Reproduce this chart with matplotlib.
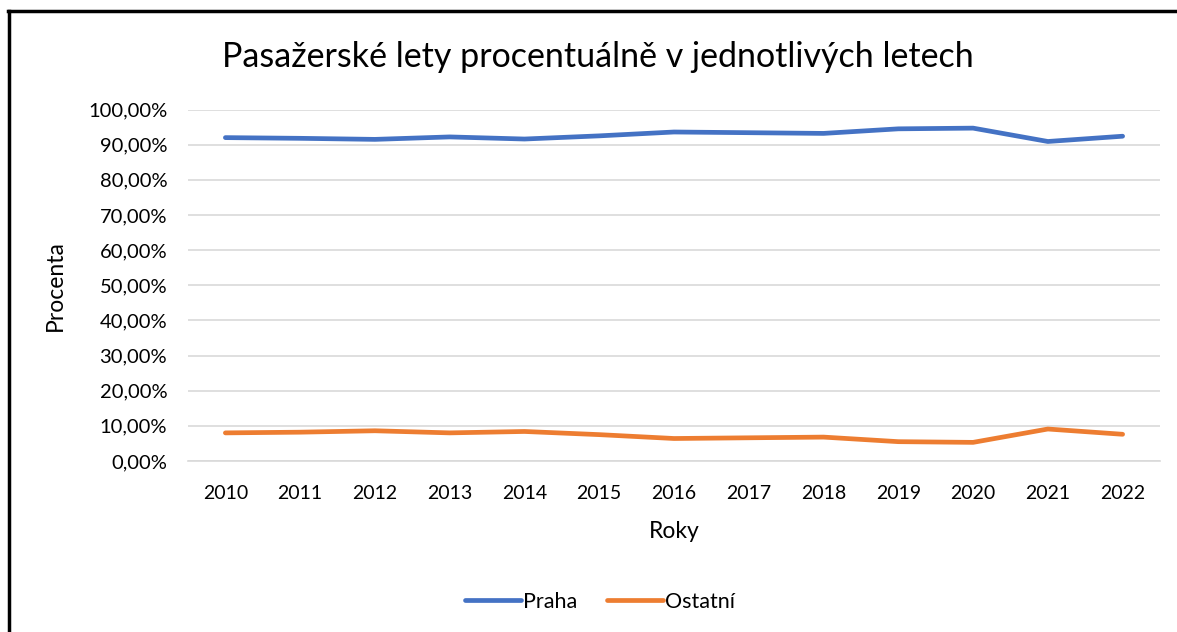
import matplotlib
matplotlib.use("Agg")
import matplotlib.pyplot as plt
from matplotlib.lines import Line2D
from matplotlib.ticker import FuncFormatter, MultipleLocator

years = ["2010", "2011", "2012", "2013", "2014", "2015", "2016",
         "2017", "2018", "2019", "2020", "2021", "2022"]
praha = [92.0, 91.8, 91.5, 92.2, 91.6, 92.5, 93.6, 93.4, 93.2, 94.5, 94.7, 90.9, 92.4]
ostatni = [8.0, 8.2, 8.6, 8.0, 8.4, 7.5, 6.4, 6.6, 6.8, 5.5, 5.3, 9.1, 7.6]

plt.rcParams["font.family"] = ["Lato", "DejaVu Sans"]

W, H = 1177, 632
fig = plt.figure(figsize=(W / 100, H / 100), dpi=100)
ax = fig.add_axes([188 / W, 1 - 461 / H, (1160 - 188) / W, (461 - 109.5) / H])

x = range(len(years))
ax.plot(x, [v / 100 for v in praha], color="#4472C4", lw=3.4, label="Praha",
        solid_capstyle="round", solid_joinstyle="round")
ax.plot(x, [v / 100 for v in ostatni], color="#ED7D31", lw=3.4, label="Ostatní",
        solid_capstyle="round", solid_joinstyle="round")

ax.set_xlim(-0.5, len(years) - 0.5)
ax.set_ylim(0, 1)
ax.set_xticks(list(x))
ax.set_xticklabels(years)
ax.yaxis.set_major_locator(MultipleLocator(0.1))
ax.yaxis.set_major_formatter(FuncFormatter(lambda v, p: f"{v * 100:.2f}%".replace(".", ",")))
ax.grid(axis="y", color="#d9d9d9", lw=1.2)
ax.set_axisbelow(True)
for s in ["top", "right", "left"]:
    ax.spines[s].set_visible(False)
ax.spines["bottom"].set_color("#d9d9d9")
ax.spines["bottom"].set_linewidth(1.2)
ax.tick_params(axis="y", length=0, labelsize=14.5, pad=15)
ax.tick_params(axis="x", length=0, labelsize=14, pad=17)

ax.set_ylabel("Procenta", fontsize=16.5, labelpad=16)
ax.set_xlabel("Roky", fontsize=16.5, labelpad=14)
fig.text(598 / W, 1 - 57 / H, "Pasažerské lety procentuálně v jednotlivých letech",
         ha="center", va="center", fontsize=24.5)

fig.legend(loc="center", bbox_to_anchor=(600 / W, 1 - 602 / H), ncol=2, frameon=False,
           fontsize=15.5, handlelength=2.6, handletextpad=0.1, columnspacing=1.4)

# partial chart border (left and top edges)
fig.add_artist(Line2D([9 / W, 9 / W], [0, 1 - 11 / H], color="black", lw=2.5,
                      transform=fig.transFigure))
fig.add_artist(Line2D([8 / W, 1], [1 - 11 / H, 1 - 11 / H], color="black", lw=2.5,
                      transform=fig.transFigure))

fig.savefig("out.png", dpi=100)
